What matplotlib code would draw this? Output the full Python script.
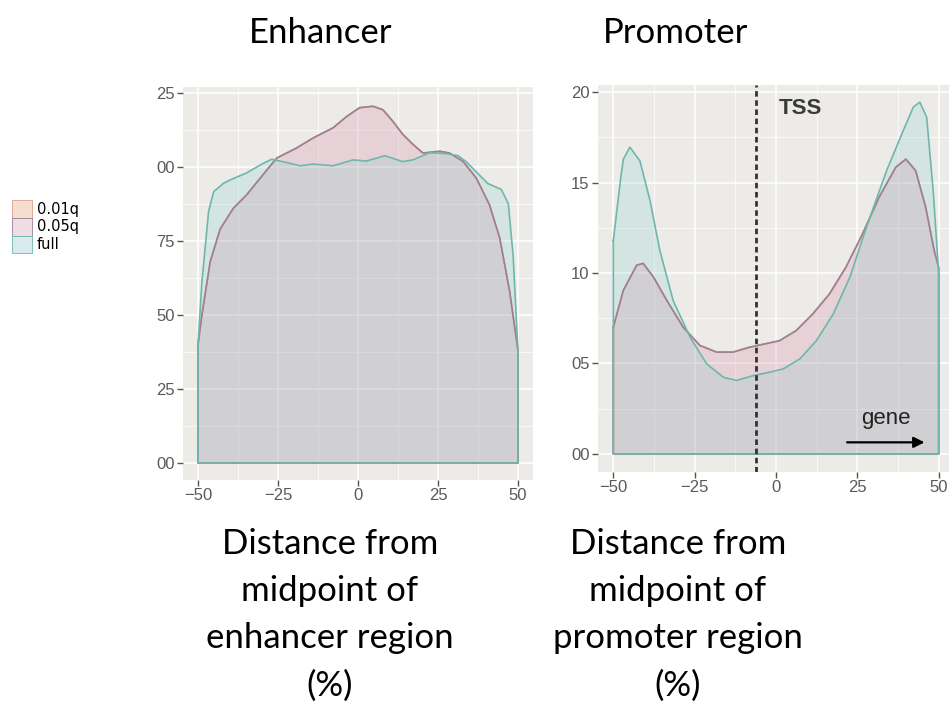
import matplotlib
matplotlib.use('Agg')
import matplotlib.pyplot as plt
from matplotlib.patches import Patch, Rectangle

# enhancer panel, density x1e4 (labels in the source were cropped)
enh_full_x = [-50, -48.8, -46.7, -45.1, -42, -40, -34.8, -30, -27, -22.3, -18.1, -14, -7.8, -1.5,
              2.6, 8.4, 14, 17.2, 22.4, 27.6, 31.3, 33.8, 37, 40.6, 44.8, 47, 48.5, 50]
enh_full_y = [40, 61, 85, 91.7, 94.5, 95.6, 98, 101, 102.6, 101.5, 100.4, 101, 100.4, 102.4,
              102, 103.8, 101.8, 102.4, 104.8, 104.5, 103.8, 101.8, 98.3, 94.4, 92.4, 87.6, 69.8, 38]
enh_05_x = [-50, -48.8, -46.2, -43.1, -39, -34.8, -29.6, -25.4, -19.2, -14, -7.8, -3.6, 0.5, 4.7,
            7.8, 10.9, 14, 17.2, 20.3, 25.5, 28.6, 32.8, 37, 41.1, 44.3, 47.4, 50]
enh_05_y = [40, 50, 68, 79, 86, 90.6, 97.5, 103, 106.4, 109.8, 113.2, 117, 120, 120.5,
            119.3, 115.4, 111, 107.6, 104.7, 105.3, 104.7, 101.9, 96.2, 87.2, 76, 58, 38]
enh_01_x = list(enh_05_x)
enh_01_y = list(enh_05_y)

# promoter panel, density x1e3
pro_full_x = [-50, -47.7, -46.9, -44.9, -41.8, -38.7, -35.7, -31.6, -26.4, -21.3, -16.2, -12.1, -7,
              -1.9, 2.2, 7.3, 12.4, 17.6, 22.7, 27.8, 34, 39.1, 42.2, 44.2, 46.3, 48.3, 50]
pro_full_y = [11.8, 15.3, 16.3, 16.96, 16.2, 14, 11.25, 8.48, 6.45, 4.98, 4.24, 4.06, 4.33,
              4.52, 4.7, 5.25, 6.26, 7.74, 9.77, 12.54, 15.67, 17.88, 19.18, 19.45, 18.62, 14.56, 10.0]
pro_05_x = [-50, -46.9, -42.8, -40.8, -37.7, -33.6, -28.5, -23.4, -18.3, -13.2, -8.1, -3, 1.1,
            6.2, 11.3, 16.4, 21.5, 26.6, 31.7, 36.8, 39.9, 42.9, 46, 48.6, 50]
pro_05_y = [7.0, 9.05, 10.44, 10.53, 9.79, 8.5, 7.0, 6.0, 5.63, 5.63, 5.9, 6.1, 6.26,
            6.82, 7.74, 8.84, 10.33, 12.17, 14.2, 15.85, 16.3, 15.67, 13.64, 11.25, 10.3]
pro_01_x = list(pro_05_x)
pro_01_y = list(pro_05_y)

groups = ['0.01q', '0.05q', 'full']
fill_cols = {'0.01q': (248/255, 180/255, 150/255, 0.10),
             '0.05q': (200/255, 120/255, 180/255, 0.17),
             'full': (120/255, 200/255, 200/255, 0.20)}
line_cols = {'0.01q': '#d8a090', '0.05q': '#9c8095', 'full': '#6db7ad'}
key_cols = {'0.01q': '#f5ddd0', '0.05q': '#efdde6', 'full': '#d9ebee'}

enh_ticks = [0, 25, 50, 75, 100, 125]
enh_labels = ['00', '25', '50', '75', '00', '25']
pro_ticks = [0, 5, 10, 15, 20]
pro_labels = ['00', '05', '10', '15', '20']
x_ticks = [-50, -25, 0, 25, 50]
x_labels = ['\u221250', '\u221225', '0', '25', '50']
tss_x = -6

W, H = 949, 724
fig = plt.figure(figsize=(W/100, H/100), dpi=100)

def px_axes(x0, y0, x1, y1):
    return fig.add_axes([x0/W, 1 - y1/H, (x1 - x0)/W, (y1 - y0)/H])

def style(ax, yt, yl, ylim):
    ax.set_facecolor('#ecebe7')
    for s in ax.spines.values():
        s.set_visible(False)
    ax.set_xticks(x_ticks)
    ax.set_xticklabels(x_labels)
    ax.set_yticks(yt)
    ax.set_yticklabels(yl)
    step_x = x_ticks[1] - x_ticks[0]
    step_y = yt[1] - yt[0]
    ax.set_xticks([t + step_x/2 for t in x_ticks[:-1]], minor=True)
    ax.set_yticks([t + step_y/2 for t in yt[:-1]], minor=True)
    ax.set_xlim(-54.7, 54.7)
    ax.set_ylim(*ylim)
    ax.grid(which='major', color='white', lw=1.1)
    ax.grid(which='minor', color='white', lw=0.5)
    ax.set_axisbelow(True)
    ax.tick_params(which='major', length=4, width=1, color='#555555', labelcolor='#5a5a5a',
                   labelsize=12, pad=2)
    ax.tick_params(which='minor', length=0)
    for lab in ax.get_xticklabels() + ax.get_yticklabels():
        lab.set_family('Liberation Sans')

def densities(ax, data):
    for g in groups:
        xs, ys = data[g]
        ax.fill_between(xs, 0, ys, facecolor=fill_cols[g], edgecolor='none')
        ax.plot(list(xs) + [xs[-1], xs[0], xs[0]], list(ys) + [0, 0, ys[0]],
                color=line_cols[g], lw=1.2)

ax1 = px_axes(183, 87, 533, 480)
style(ax1, enh_ticks, enh_labels, (-5.7, 127))
densities(ax1, {'0.01q': (enh_01_x, enh_01_y), '0.05q': (enh_05_x, enh_05_y),
                'full': (enh_full_x, enh_full_y)})

ax2 = px_axes(598, 85, 954, 472)
style(ax2, pro_ticks, pro_labels, (-1.0, 20.4))
densities(ax2, {'0.01q': (pro_01_x, pro_01_y), '0.05q': (pro_05_x, pro_05_y),
                'full': (pro_full_x, pro_full_y)})
ax2.axvline(tss_x, color='#333333', lw=2, ls=(0, (2, 1.3)))
ax2.text(0.8, 19.1, 'TSS', fontsize=16, color='#3a3a3a', va='center', ha='left',
         family='Liberation Sans', fontweight='bold')
ax2.text(33.8, 1.95, 'gene', fontsize=16, color='#222222', va='center', ha='center',
         family='Liberation Sans')
ax2.annotate('', xy=(46.5, 0.64), xytext=(21, 0.64),
             arrowprops=dict(arrowstyle='-|>', color='black', lw=1.6, mutation_scale=16))

# crop at the bottom of the enhancer panel as in the source image
fig.patches.append(Rectangle((130/W, 1 - 515/H), 415/W, 12/H, transform=fig.transFigure,
                             facecolor='white', edgecolor='none', zorder=10))

handles = [Patch(facecolor=key_cols[g], edgecolor=line_cols[g], lw=0.6) for g in groups]
fig.legend(handles, groups, loc='upper left', bbox_to_anchor=(12/W, 1 - 200/H),
           frameon=False, handlelength=1.4, handleheight=1.5,
           labelspacing=0.0, handletextpad=0.3, borderpad=0, borderaxespad=0,
           prop={'family': 'DejaVu Sans', 'size': 10.5})

title_font = dict(family='Lato', fontsize=25, color='black', ha='center', va='center')
fig.text(321/W, 1 - 33/H, 'Enhancer', **title_font)
fig.text(676/W, 1 - 33/H, 'Promoter', **title_font)
fig.text(330/W, 1 - 615/H, 'Distance from\nmidpoint of\nenhancer region\n(%)',
         linespacing=1.58, **title_font)
fig.text(678/W, 1 - 615/H, 'Distance from\nmidpoint of\npromoter region\n(%)',
         linespacing=1.58, **title_font)

fig.savefig('out.png', dpi=100, facecolor='white')
